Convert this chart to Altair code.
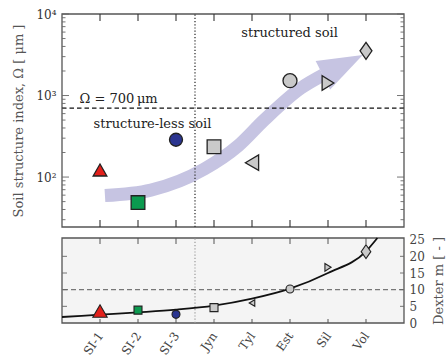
import altair as alt
import pandas as pd

# ---------------- data ----------------
categories = ["SI-1", "SI-2", "SI-3", "Jyn", "Tyl", "Est", "Sil", "Vol"]
positions = [1, 2, 3, 4, 5, 6, 7, 8]
omega_um = [122, 48.6, 287, 235, 150, 1520, 1422, 3533]
dexter_m = [3.6, 3.85, 2.6, 4.6, 6.0, 10.2, 16.7, 21.4]

fit_pos = [0, 1, 2, 3, 4, 5, 6, 7, 8, 8.3]
fit_m = [1.8, 2.5, 3.2, 4.0, 5.2, 7.3, 10.3, 15.0, 21.5, 25.5]

trend_pos = [1.13, 2.34, 3.74, 4.63, 5.32, 6.29, 6.87]
trend_omega = [59.3, 69.2, 125, 240, 500, 1236, 1786]
trend_head_pos = [7.39]
trend_head_omega = [2366]

omega_threshold = [700]
m_threshold = [10]
divider_pos = [3.5]

omega_domain = [24.4, 10000]
m_domain = [0, 25.5]
pos_domain = [0, 9]

omega_label_values = [100, 1000, 10000]
omega_minor = [30, 40, 50, 60, 70, 80, 90,
               200, 300, 400, 500, 600, 700, 800, 900,
               2000, 3000, 4000, 5000, 6000, 7000, 8000, 9000]
m_label_values = [0, 5, 10, 15, 20, 25]
m_inner = [5, 10, 15, 20]

note_text = ["\u03a9 = 700\u2009\u03bcm", "structure-less soil", "structured soil"]
note_pos = [1.49, 2.38, 5.99]
note_omega = [810, 399, 5224]

# ---------------- styles ----------------
FONT = "DejaVu Serif"
W = 342
H = 309
TOP_RANGE = [213, 0]
LOW_RANGE = [309, 224]
LAV = "#c6c4e2"
EDGE = "#222222"
FRAME = "#555555"
TICK = "#666666"

TRI_UP = "M0,-0.87L1,0.87L-1,0.87Z"
TRI_LEFT = "M-0.86,0L0.86,-1L0.86,1Z"
TRI_RIGHT = "M0.8,0L-0.8,-1L-0.8,1Z"
DIAMOND = "M0,-1L0.7,0L0,1L-0.7,0Z"
HEAD = "M0,-1L0.716,1L-0.716,1Z"

marker_fill = ["#e3201b", "#0b9a4f", "#2b3590", "#c9c9c9",
               "#c9c9c9", "#c9c9c9", "#c9c9c9", "#c9c9c9"]
marker_shape = [TRI_UP, "square", "circle", "square",
                TRI_LEFT, "circle", TRI_RIGHT, DIAMOND]
top_sizes = [188, 188, 169, 188, 237, 196, 216, 289]
low_sizes = [207, 64, 64, 64, 42, 64, 59, 190]

pts = pd.DataFrame({"cat": categories, "pos": positions,
                    "omega": omega_um, "m": dexter_m,
                    "fill": marker_fill, "shape": marker_shape,
                    "size_top": top_sizes, "size_low": low_sizes})

names_js = "[" + ",".join("'" + c + "'" for c in categories) + "]"

X_AXIS = alt.Axis(orient="bottom", values=positions, ticks=False, domain=False, grid=False,
                  labelExpr=names_js + "[datum.value - 1]",
                  labelAngle=305, labelAlign="right", labelBaseline="middle",
                  labelPadding=10, labelFont=FONT, labelFontSize=12, labelColor="#444",
                  title=None)
X_SCALE = alt.Scale(domain=pos_domain, nice=False, zero=False)

TOP_AXIS = alt.Axis(orient="left", values=omega_label_values, ticks=False, domain=False,
                    grid=False,
                    labelExpr="datum.value == 100 ? '10\u00b2' : datum.value == 1000 ? '10\u00b3' : '10\u2074'",
                    labelFont=FONT, labelFontSize=12, labelColor="#333", labelPadding=6,
                    title="Soil structure index, \u03a9 [ \u03bcm ]", titleFont=FONT,
                    titleFontSize=13, titleFontWeight="normal", titleColor="#555",
                    titlePadding=10)
TOP_SCALE = alt.Scale(type="log", domain=omega_domain, range=TOP_RANGE, nice=False)

LOW_AXIS = alt.Axis(orient="right", values=m_label_values, ticks=False, domain=False,
                    grid=False, labelFont=FONT, labelFontSize=12, labelColor="#444",
                    labelPadding=5, title="Dexter m [ - ]", titleFont=FONT,
                    titleFontSize=13, titleFontWeight="normal", titleColor="#555",
                    titleAngle=270, titleBaseline="top", titlePadding=8)
LOW_SCALE = alt.Scale(domain=m_domain, range=LOW_RANGE, nice=False, zero=False)


def xpos(field="pos"):
    return alt.X(field, type="quantitative", scale=X_SCALE, axis=X_AXIS)


def ytop(field):
    return alt.Y(field, type="quantitative", scale=TOP_SCALE, axis=TOP_AXIS)


def ylow(field):
    return alt.Y(field, type="quantitative", scale=LOW_SCALE, axis=LOW_AXIS)


# ---------------- top panel ----------------
frame_top_df = pd.DataFrame({"x0": [pos_domain[0]], "x1": [pos_domain[1]],
                             "y0": [omega_domain[0]], "y1": [omega_domain[1]]})

frame_top = alt.Chart(frame_top_df).mark_rect(fill="white", stroke=FRAME, strokeWidth=1.3).encode(
    x=xpos("x0"), x2="x1:Q", y=ytop("y0"), y2="y1:Q")

band = alt.Chart(pd.DataFrame({"pos": trend_pos, "omega": trend_omega})).mark_line(
    color=LAV, strokeWidth=13, strokeCap="butt", interpolate="monotone"
).encode(x=xpos(), y=ytop("omega"))

head = alt.Chart(pd.DataFrame({"pos": trend_head_pos, "omega": trend_head_omega})).mark_point(
    shape=HEAD, size=1998, angle=63, filled=True, color=LAV, opacity=1, strokeWidth=0
).encode(x=xpos(), y=ytop("omega"))

thr_top = alt.Chart(pd.DataFrame({"omega": omega_threshold})).mark_rule(
    color="#111", strokeWidth=1.1, strokeDash=[4.5, 3]
).encode(y=ytop("omega"))

div_top = alt.Chart(pd.DataFrame({"pos": divider_pos, "y0": [omega_domain[0]],
                                  "y1": [omega_domain[1]]})).mark_rule(
    color="#333", strokeWidth=1.3, strokeDash=[1.2, 2]
).encode(x=xpos(), y=ytop("y0"), y2="y1:Q")

minor_df = pd.DataFrame({"omega": omega_minor})
major_df = pd.DataFrame({"omega": omega_label_values})
tl_min = alt.Chart(minor_df).mark_rule(color=TICK, strokeWidth=0.9).encode(
    y=ytop("omega"), x=alt.value(0), x2=alt.value(3.5))
tr_min = alt.Chart(minor_df).mark_rule(color=TICK, strokeWidth=0.9).encode(
    y=ytop("omega"), x=alt.value(W), x2=alt.value(W - 3.5))
tl_maj = alt.Chart(major_df).mark_rule(color=TICK, strokeWidth=0.9).encode(
    y=ytop("omega"), x=alt.value(0), x2=alt.value(7))
tr_maj = alt.Chart(major_df).mark_rule(color=TICK, strokeWidth=0.9).encode(
    y=ytop("omega"), x=alt.value(W), x2=alt.value(W - 7))

pos_df = pd.DataFrame({"pos": positions})
tx_bot = alt.Chart(pos_df).mark_rule(color="#333", strokeWidth=1.1).encode(
    x=xpos(), y=alt.value(TOP_RANGE[0]), y2=alt.value(TOP_RANGE[0] - 7))
tx_top = alt.Chart(pos_df).mark_rule(color="#333", strokeWidth=1.1).encode(
    x=xpos(), y=alt.value(0), y2=alt.value(7))

notes = alt.Chart(pd.DataFrame({"t": note_text, "pos": note_pos, "omega": note_omega})).mark_text(
    font=FONT, fontSize=13, color="#222", align="center", baseline="alphabetic"
).encode(x=xpos(), y=ytop("omega"), text="t:N")

points_top = alt.Chart(pts).mark_point(filled=True, opacity=1, stroke=EDGE, strokeWidth=1.3).encode(
    x=xpos(),
    y=ytop("omega"),
    fill=alt.Fill("fill:N", scale=None),
    shape=alt.Shape("shape:N", scale=None),
    size=alt.Size("size_top:Q", scale=None),
)

top_layer = alt.layer(frame_top, band, head, thr_top, div_top,
                      tl_min, tr_min, tl_maj, tr_maj, tx_bot, tx_top, notes, points_top)

# ---------------- lower panel ----------------
frame_low_df = pd.DataFrame({"x0": [pos_domain[0]], "x1": [pos_domain[1]],
                             "y0": [m_domain[0]], "y1": [m_domain[1]]})

frame_low = alt.Chart(frame_low_df).mark_rect(fill="#f4f4f4", stroke=FRAME, strokeWidth=1.3).encode(
    x=xpos("x0"), x2="x1:Q", y=ylow("y0"), y2="y1:Q")

thr_low = alt.Chart(pd.DataFrame({"m": m_threshold})).mark_rule(
    color="#777", strokeWidth=1.4, strokeDash=[5, 3]
).encode(y=ylow("m"))

div_low = alt.Chart(pd.DataFrame({"pos": divider_pos, "y0": [m_domain[0]],
                                  "y1": [m_domain[1]]})).mark_rule(
    color="#999", strokeWidth=1.2, strokeDash=[1.2, 2]
).encode(x=xpos(), y=ylow("y0"), y2="y1:Q")

fit = alt.Chart(pd.DataFrame({"pos": fit_pos, "m": fit_m})).mark_line(
    color="#111", strokeWidth=1.8, interpolate="monotone"
).encode(x=xpos(), y=ylow("m"))

inner_df = pd.DataFrame({"m": m_inner})
ll = alt.Chart(inner_df).mark_rule(color=TICK, strokeWidth=0.9).encode(
    y=ylow("m"), x=alt.value(0), x2=alt.value(5))
lr = alt.Chart(inner_df).mark_rule(color=TICK, strokeWidth=0.9).encode(
    y=ylow("m"), x=alt.value(W), x2=alt.value(W - 4))
lx_top = alt.Chart(pos_df).mark_rule(color="#555", strokeWidth=1.0).encode(
    x=xpos(), y=alt.value(LOW_RANGE[1]), y2=alt.value(LOW_RANGE[1] + 6))
lx_bot = alt.Chart(pos_df).mark_rule(color="#555", strokeWidth=1.0).encode(
    x=xpos(), y=alt.value(LOW_RANGE[0]), y2=alt.value(LOW_RANGE[0] - 4))

points_low = alt.Chart(pts).mark_point(filled=True, opacity=1, stroke=EDGE, strokeWidth=1.1).encode(
    x=xpos(),
    y=ylow("m"),
    fill=alt.Fill("fill:N", scale=None),
    shape=alt.Shape("shape:N", scale=None),
    size=alt.Size("size_low:Q", scale=None),
)

low_layer = alt.layer(frame_low, thr_low, div_low, fit, ll, lr, lx_top, lx_bot, points_low)

chart = alt.layer(top_layer, low_layer).resolve_scale(
    y="independent"
).properties(
    width=W, height=H,
    padding={"left": 12, "top": 8, "right": 0, "bottom": 0},
).configure_view(stroke=None)

chart.save("out.html", embed_options={"renderer": "svg", "actions": False})
